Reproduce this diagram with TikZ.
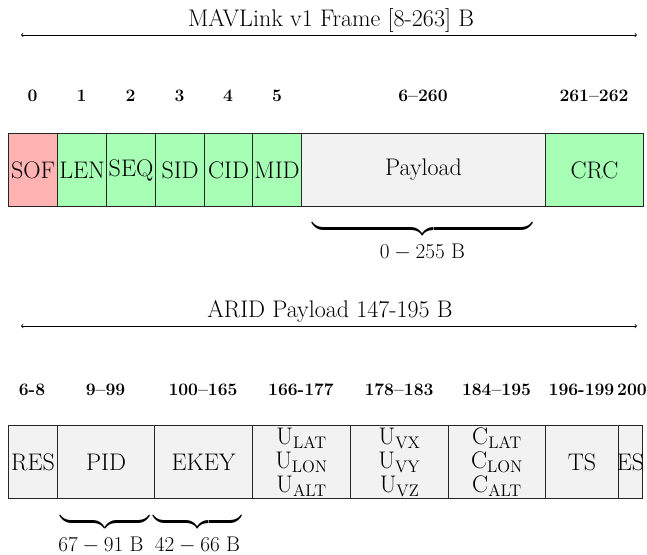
\RequirePackage{fix-cm}
\documentclass[tikz,border=0pt]{standalone}
\usepackage{amsmath}
\definecolor{sofred}{HTML}{FFB3B3}
\definecolor{fgreen}{HTML}{A6FFB4}
\definecolor{pgray}{HTML}{F2F2F2}
\begin{document}
\begin{tikzpicture}[x=1pt,y=-1pt,
  cell/.style={draw=black!85, line width=1.1pt, anchor=north west, minimum height=73pt, inner sep=0pt, font=\fontsize{24}{24}\selectfont},
  grn/.style={cell, fill=fgreen},
  gry/.style={cell, fill=pgray},
  num/.style={anchor=base, inner sep=0pt, font=\fontsize{17.5}{20}\selectfont\bfseries},
  ttl/.style={anchor=base, inner sep=0pt, font=\fontsize{24}{26}\selectfont},
  lbl/.style={inner sep=0pt, anchor=base, font=\fontsize{21.2}{24}\selectfont},
  brc/.style={inner sep=0pt, anchor=north, font=\fontsize{23}{24}\selectfont},
  span/.style={<->, line width=0.7pt},
]
\useasboundingbox (0,0) rectangle (647,554);

% ---------- MAVLink frame ----------
\node[ttl] (t1) at (331,27) {MAVLink v1 Frame [8-263] B};
\coordinate (a1l) at (21,35);
\coordinate (a1r) at (637,35);
\draw[span] (a1l) -- (a1r);

\node[num] (n0) at (32.5,101) {0};
\node[num] (n1) at (81.5,101) {1};
\node[num] (n2) at (130.5,101) {2};
\node[num] (n3) at (179.5,101) {3};
\node[num] (n4) at (228,101) {4};
\node[num] (n5) at (277,101) {5};
\node[num] (n6) at (423,101) {6--260};
\node[num] (n7) at (594,101) {261--262};

\node[cell, fill=sofred, minimum width=49pt] (sof) at (8,133) {SOF};
\node[grn, minimum width=49pt] (len) at (57,133) {LEN};
\node[grn, minimum width=49pt] (seq) at (106,133) {SEQ};
\node[grn, minimum width=49pt] (sid) at (155,133) {SID};
\node[grn, minimum width=48pt] (cid) at (204,133) {CID};
\node[grn, minimum width=49pt] (mid) at (252,133) {MID};
\node[gry, minimum width=244pt] (pay) at (301,133) {Payload};
\node[grn, minimum width=98pt] (crc) at (545,133) {CRC};

\node[brc] (b1) at (422.5,224) {$\underbrace{\hbox to 221pt{}}$};
\node[lbl] (l1) at (422.5,258) {$0-255$ B};

% ---------- ARID payload ----------
\node[ttl] (t2) at (330,317) {ARID Payload 147-195 B};
\coordinate (a2l) at (21,326);
\coordinate (a2r) at (637,326);
\draw[span] (a2l) -- (a2r);

\node[num] (m0) at (32,395) {6-8};
\node[num] (m1) at (105.5,395) {9--99};
\node[num] (m2) at (203,395) {100--165};
\node[num] (m3) at (301,395) {166-177};
\node[num] (m4) at (399,395) {178--183};
\node[num] (m5) at (496.5,395) {184--195};
\node[num] (m6) at (581.5,395) {196-199};
\node[num] (m7) at (632,395) {200};

\node[gry, minimum width=49pt] (res) at (8,425) {RES};
\node[gry, minimum width=97pt] (pid) at (57,425) {PID};
\node[gry, minimum width=98pt] (ekey) at (154,425) {EKEY};
\node[gry, minimum width=98pt, align=center] (ucell) at (252,425) {$\mathrm{U_{LAT}}$\\$\mathrm{U_{LON}}$\\$\mathrm{U_{ALT}}$};
\node[gry, minimum width=98pt, align=center] (vcell) at (350,425) {$\mathrm{U_{VX}}$\\$\mathrm{U_{VY}}$\\$\mathrm{U_{VZ}}$};
\node[gry, minimum width=97pt, align=center] (ccell) at (448,425) {$\mathrm{C_{LAT}}$\\$\mathrm{C_{LON}}$\\$\mathrm{C_{ALT}}$};
\node[gry, minimum width=73pt] (ts) at (545,425) {TS};
\node[gry, minimum width=24pt] (es) at (618,425) {\makebox[0pt]{ES}};

\node[brc] (b2) at (105,517) {$\underbrace{\hbox to 90pt{}}$};
\node[brc] (b3) at (197.5,517) {$\underbrace{\hbox to 89pt{}}$};
\node[lbl] (l2) at (101,551) {$67-91$ B};
\node[lbl] (l3) at (197.5,551) {$42-66$ B};
\end{tikzpicture}
\end{document}
